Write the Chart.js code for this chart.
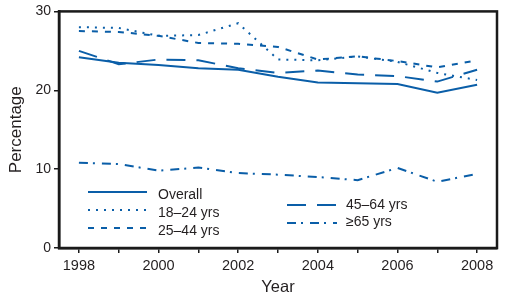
<!DOCTYPE html>
<html>
<head>
<meta charset="utf-8">
<script src="https://cdn.jsdelivr.net/npm/chart.js@4"></script>
<style>
html,body{margin:0;padding:0;background:#fff;}
#wrap{width:523px;height:303px;position:relative;}
</style>
</head>
<body>
<div id="wrap"><canvas id="c" width="523" height="303"></canvas></div>
<script>
const years = ['1998','1999','2000','2001','2002','2003','2004','2005','2006','2007','2008'];
const overall = [24.2, 23.5, 23.2, 22.8, 22.6, 21.7, 21.0, 20.9, 20.8, 19.7, 20.7];
const age18_24 = [28.0, 27.9, 26.9, 27.0, 28.5, 23.9, 23.8, 24.3, 23.6, 22.2, 21.3];
const age25_44 = [27.5, 27.4, 26.9, 26.0, 25.9, 25.5, 23.9, 24.3, 23.7, 22.9, 23.8];
const age45_64 = [25.0, 23.3, 23.9, 23.8, 22.8, 22.2, 22.5, 22.0, 21.8, 21.1, 22.6];
const age65 = [10.8, 10.65, 9.8, 10.2, 9.5, 9.3, 9.0, 8.6, 10.15, 8.4, 9.4];
const yTicks = [0, 10, 20, 30];
const seriesNames = ['Overall', '18\u201324 yrs', '25\u201344 yrs', '45\u201364 yrs', '\u226565 yrs'];

const BLUE = '#0a5ea8';
const FONT = "'Liberation Sans', Arial, sans-serif";
const TXT = '#231f20';

function ds(label, data, dash) {
  return { label, data, borderColor: BLUE, backgroundColor: BLUE, borderWidth: 2,
    borderDash: dash, pointRadius: 0, tension: 0, fill: false };
}

const legendPos = [
  { x: 88, y: 192 }, { x: 88, y: 210 }, { x: 88, y: 228 },
  { x: 287, y: 205 }, { x: 287, y: 223 }
];
const legendLen = [59, 59, 59, 50, 50];
const legendTextX = [158, 158, 158, 346, 346];
const legendTextY = [195, 213, 231, 205, 222];

const boxPlugin = {
  id: 'box',
  afterDraw(chart) {
    const { ctx, chartArea: a } = chart;
    ctx.save();
    ctx.strokeStyle = '#1a1a1a';
    ctx.lineWidth = 2.5;
    ctx.strokeRect(a.left, a.top, a.right - a.left, a.bottom - a.top);
    // legend
    ctx.font = '14px ' + FONT;
    ctx.fillStyle = TXT;
    ctx.textBaseline = 'middle';
    chart.data.datasets.forEach((d, i) => {
      const p = legendPos[i];
      ctx.beginPath();
      ctx.setLineDash(d.borderDash || []);
      ctx.strokeStyle = d.borderColor;
      ctx.lineWidth = 2;
      ctx.moveTo(p.x, p.y);
      ctx.lineTo(p.x + legendLen[i], p.y);
      ctx.stroke();
      ctx.setLineDash([]);
      ctx.fillText(d.label, legendTextX[i], legendTextY[i]);
    });
    ctx.restore();
  }
};

new Chart(document.getElementById('c'), {
  type: 'line',
  data: {
    labels: years,
    datasets: [
      ds(seriesNames[0], overall, []),
      ds(seriesNames[1], age18_24, [2, 6]),
      ds(seriesNames[2], age25_44, [6, 7]),
      ds(seriesNames[3], age45_64, [19, 11]),
      ds(seriesNames[4], age65, [9, 5, 2, 7])
    ]
  },
  options: {
    responsive: false,
    animation: false,
    devicePixelRatio: 1,
    layout: { padding: { left: 0, right: 26, top: 9, bottom: 0 } },
    plugins: { legend: { display: false }, tooltip: { enabled: false } },
    scales: {
      x: {
        type: 'category',
        offset: true,
        grid: { offset: false, drawOnChartArea: false, drawTicks: true, tickLength: 5, color: '#1a1a1a', lineWidth: 1.5 },
        border: { display: true, color: '#1a1a1a', width: 2.5 },
        ticks: {
          color: TXT, font: { family: FONT, size: 14.5 }, padding: 4, maxRotation: 0, autoSkip: false,
          callback: function (v, i) { return (i % 2 === 0) ? years[i] : ''; }
        },
        title: { display: true, text: 'Year', color: TXT, font: { family: FONT, size: 16.5 }, padding: { top: 0, bottom: 6 } },
        afterFit(s) { s.height = 55; }
      },
      y: {
        min: 0, max: 30,
        afterBuildTicks(s) { s.ticks = yTicks.map(v => ({ value: v })); },
        grid: { drawOnChartArea: false, drawTicks: true, tickLength: 5, color: '#1a1a1a', lineWidth: 1.5 },
        border: { display: true, color: '#1a1a1a', width: 2.5 },
        ticks: { color: TXT, font: { family: FONT, size: 14 }, padding: 3 },
        title: { display: true, text: 'Percentage', color: TXT, font: { family: FONT, size: 17 }, padding: { top: 6, bottom: 0 } },
        afterFit(s) { s.width = 59; }
      }
    }
  },
  plugins: [boxPlugin]
});
</script>
</body>
</html>
